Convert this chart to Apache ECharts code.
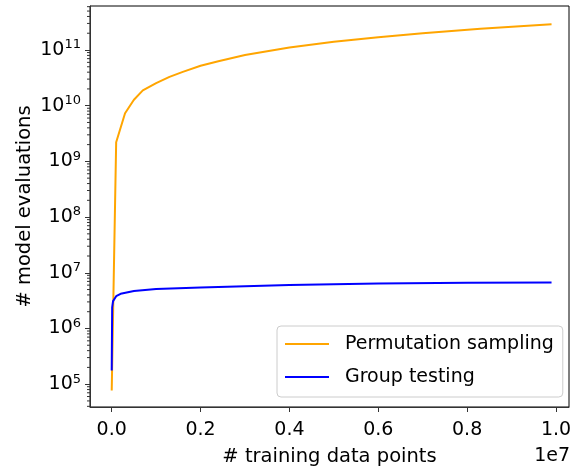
<!DOCTYPE html>
<html>
<head>
<meta charset="utf-8">
<script src="https://cdn.jsdelivr.net/npm/echarts@6/dist/echarts.min.js"></script>
<style>
  html, body { margin: 0; padding: 0; background: #fff; }
  #main { width: 574px; height: 469px; }
</style>
</head>
<body>
<div id="main"></div>
<script>
// values
var permX = [15, 1e5, 3e5, 5e5, 7e5, 1e6, 1.3e6, 1.6e6, 2e6, 2.4e6, 3e6, 4e6, 5e6, 6e6, 7e6, 8.3e6, 9.9e6];
var permY = [7.7e4, 2.2e9, 7.3e9, 1.28e10, 1.88e10, 2.55e10, 3.3e10, 4.05e10, 5.2e10, 6.3e10, 8.1e10, 1.11e11, 1.41e11, 1.70e11, 2.0e11, 2.41e11, 2.9e11];

var groupX = [15, 1e4, 3e4, 1e5, 2e5, 5e5, 1e6, 2e6, 4e6, 6e6, 8e6, 9.9e6];
var groupY = [1.76e5, 2.4e6, 3.1e6, 3.8e6, 4.2e6, 4.7e6, 5.1e6, 5.45e6, 6.05e6, 6.4e6, 6.6e6, 6.7e6];

var xTicks = [0, 2e6, 4e6, 6e6, 8e6, 1e7];
var minorMult = [2, 3, 4, 5, 6, 7, 8, 9];
var minorDecades = [4, 5, 6, 7, 8, 9, 10, 11];

var xMin = -0.0489e7, xMax = 1.0293e7;
var yMin = Math.pow(10, 4.59), yMax = Math.pow(10, 11.79);

function pairs(xs, ys) {
    return xs.map(function (x, i) { return [x, ys[i]]; });
}

var minorTicks = [];
minorDecades.forEach(function (d) {
    minorMult.forEach(function (m) {
        var v = m * Math.pow(10, d);
        if (v >= yMin && v <= yMax) minorTicks.push([xMin, v]);
    });
});

var font = 'DejaVu Sans';

var option = {
    animation: false,
    textStyle: { fontFamily: font },
    grid: {
        left: 90, right: 5, top: 6, bottom: 62,
        outerBoundsMode: 'none',
        containLabel: false,
        show: true, borderColor: '#000', borderWidth: 1
    },
    legend: {
        orient: 'vertical',
        left: 277, top: 326,
        padding: [8, 9, 10, 8],
        icon: 'rect',
        itemWidth: 44, itemHeight: 2, itemGap: 13,
        backgroundColor: '#fff',
        borderColor: '#ccc', borderWidth: 1, borderRadius: 4,
        textStyle: { fontFamily: font, fontSize: 19, lineHeight: 20, color: '#000', padding: [0, 0, 0, 11] },
        data: ['Permutation sampling', 'Group testing']
    },
    xAxis: {
        type: 'value',
        min: xMin, max: xMax,
        splitLine: { show: false },
        axisLine: { onZero: false, lineStyle: { color: '#333' } },
        axisTick: { length: 5, customValues: xTicks, lineStyle: { color: '#333' } },
        axisLabel: {
            customValues: xTicks,
            margin: 14,
            fontFamily: font, fontSize: 19, color: '#000',
            formatter: function (v) { return (v / 1e7).toFixed(1); }
        },
        name: '# training data points',
        nameLocation: 'middle',
        nameGap: 40,
        nameMoveOverlap: false,
        nameTextStyle: { fontFamily: font, fontSize: 19.5, color: '#000' }
    },
    yAxis: {
        type: 'log',
        logBase: 10,
        min: yMin, max: yMax,
        splitLine: { show: false },
        axisLine: { show: true, onZero: false, lineStyle: { color: '#333' } },
        axisTick: { length: 5, lineStyle: { color: '#333' } },
        axisLabel: {
            margin: 9,
            showMinLabel: false, showMaxLabel: false,
            formatter: function (v) {
                var e = Math.log10(v);
                if (Math.abs(e - Math.round(e)) > 1e-6) return '';
                return '{b|10}{s|' + Math.round(e) + '}';
            },
            rich: {
                b: { fontFamily: font, fontSize: 19, color: '#000', lineHeight: 19 },
                s: { fontFamily: font, fontSize: 13, color: '#000', lineHeight: 13, padding: [0, 0, 10, 0] }
            }
        },
        name: '# model evaluations',
        nameLocation: 'middle',
        nameRotate: 90,
        nameGap: 55,
        nameMoveOverlap: false,
        nameTextStyle: { fontFamily: font, fontSize: 19.5, color: '#000' }
    },
    series: [
        {
            name: 'Permutation sampling',
            type: 'line',
            symbol: 'none',
            lineStyle: { color: '#FFA500', width: 2 },
            itemStyle: { color: '#FFA500' },
            data: pairs(permX, permY)
        },
        {
            name: 'Group testing',
            type: 'line',
            symbol: 'none',
            lineStyle: { color: '#0000FF', width: 2 },
            itemStyle: { color: '#0000FF' },
            data: pairs(groupX, groupY)
        },
        {
            // log minor ticks on the y axis
            type: 'custom',
            silent: true,
            clip: false,
            encode: { x: 0, y: 1 },
            data: minorTicks,
            renderItem: function (params, api) {
                var p = api.coord([api.value(0), api.value(1)]);
                return {
                    type: 'line',
                    shape: { x1: p[0] - 3, y1: p[1], x2: p[0], y2: p[1] },
                    style: { stroke: '#333', lineWidth: 1 }
                };
            }
        }
    ],
    graphic: [
        {
            type: 'text',
            right: 4, top: 447,
            style: { text: '1e7', fontFamily: font, fontSize: 19, fill: '#000' }
        }
    ]
};

var myChart = echarts.init(document.getElementById('main'));
myChart.setOption(option);
</script>
</body>
</html>
